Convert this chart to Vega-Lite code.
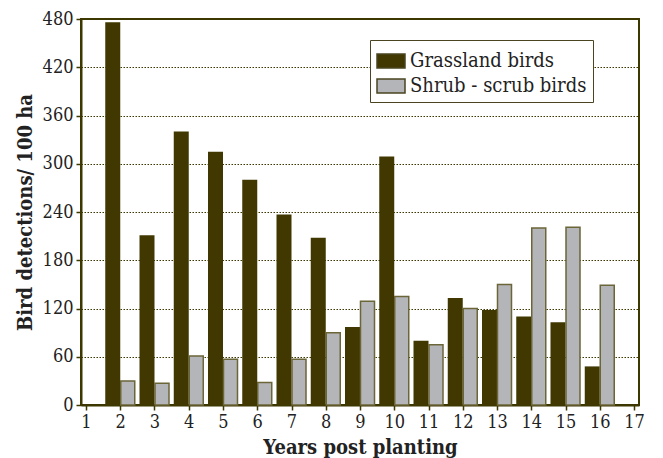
{
  "$schema": "https://vega.github.io/schema/vega-lite/v6.json",
  "width": 558,
  "height": 386,
  "autosize": {"type": "none"},
  "padding": {"left": 81, "top": 19, "right": 24, "bottom": 53},
  "background": "white",
  "config": {
    "view": {"stroke": "#3d3700", "strokeWidth": 2},
    "font": "DejaVu Serif Condensed",
    "axis": {
      "labelFont": "DejaVu Serif Condensed",
      "labelFontSize": 18,
      "labelColor": "#222222",
      "titleFont": "DejaVu Serif Condensed",
      "titleFontSize": 20,
      "titleFontWeight": "bold",
      "titleColor": "#222222",
      "domainColor": "#3d3700",
      "domainWidth": 2,
      "tickColor": "#3d3700",
      "tickSize": 5,
      "tickWidth": 1.5
    },
    "legend": {
      "labelFont": "DejaVu Serif Condensed"
    }
  },
  "data": {
    "values": [
      {"year": 2, "group": "Grassland birds", "value": 476},
      {"year": 3, "group": "Grassland birds", "value": 211},
      {"year": 4, "group": "Grassland birds", "value": 340},
      {"year": 5, "group": "Grassland birds", "value": 315},
      {"year": 6, "group": "Grassland birds", "value": 280},
      {"year": 7, "group": "Grassland birds", "value": 237},
      {"year": 8, "group": "Grassland birds", "value": 208},
      {"year": 9, "group": "Grassland birds", "value": 97},
      {"year": 10, "group": "Grassland birds", "value": 309},
      {"year": 11, "group": "Grassland birds", "value": 80},
      {"year": 12, "group": "Grassland birds", "value": 133},
      {"year": 13, "group": "Grassland birds", "value": 118},
      {"year": 14, "group": "Grassland birds", "value": 110},
      {"year": 15, "group": "Grassland birds", "value": 103},
      {"year": 16, "group": "Grassland birds", "value": 48},
      {"year": 2, "group": "Shrub - scrub birds", "value": 30},
      {"year": 3, "group": "Shrub - scrub birds", "value": 27},
      {"year": 4, "group": "Shrub - scrub birds", "value": 61},
      {"year": 5, "group": "Shrub - scrub birds", "value": 57},
      {"year": 6, "group": "Shrub - scrub birds", "value": 28},
      {"year": 7, "group": "Shrub - scrub birds", "value": 57},
      {"year": 8, "group": "Shrub - scrub birds", "value": 90},
      {"year": 9, "group": "Shrub - scrub birds", "value": 129},
      {"year": 10, "group": "Shrub - scrub birds", "value": 135},
      {"year": 11, "group": "Shrub - scrub birds", "value": 75},
      {"year": 12, "group": "Shrub - scrub birds", "value": 120},
      {"year": 13, "group": "Shrub - scrub birds", "value": 150},
      {"year": 14, "group": "Shrub - scrub birds", "value": 220},
      {"year": 15, "group": "Shrub - scrub birds", "value": 221},
      {"year": 16, "group": "Shrub - scrub birds", "value": 149}
    ]
  },
  "encoding": {
    "x": {
      "field": "year",
      "type": "quantitative",
      "scale": {"domain": [1, 17], "nice": false, "zero": false},
      "axis": {"values": [1,2,3,4,5,6,7,8,9,10,11,12,13,14,15,16,17], "title": "Years post planting", "grid": false, "labelPadding": 3, "titlePadding": 6, "labelFont": "DejaVu Serif Condensed"}
    },
    "y": {
      "field": "value",
      "type": "quantitative",
      "scale": {"domain": [0, 480], "nice": false},
      "axis": {
        "values": [0, 60, 120, 180, 240, 300, 360, 420, 480],
        "title": "Bird detections/ 100 ha",
        "grid": true,
        "gridColor": "#3d3700",
        "gridDash": [1.5, 1.5],
        "gridWidth": 1.2,
        "labelPadding": 3,
        "titlePadding": 7,
        "labelFont": "DejaVu Serif Condensed"
      }
    },
    "color": {
      "field": "group",
      "type": "nominal",
      "scale": {"domain": ["Grassland birds", "Shrub - scrub birds"], "range": ["#403800", "#b4b5b8"]},
      "legend": {
        "title": null,
        "orient": "none",
        "legendX": 289,
        "legendY": 21,
        "padding": 6,
        "fillColor": "white",
        "strokeColor": "#4a4420",
        "labelFont": "DejaVu Serif Condensed",
        "labelFontSize": 20,
        "labelLimit": 400,
        "labelColor": "#222222",
        "labelOffset": 4,
        "symbolType": "M-1,-0.5H1V0.5H-1Z",
        "symbolSize": 784,
        "symbolOpacity": 1,
        "symbolStrokeColor": "#4a4420",
        "symbolStrokeWidth": 1.5,
        "rowPadding": 0
      }
    }
  },
  "layer": [
    {
      "transform": [{"filter": "datum.group === 'Grassland birds'"}],
      "mark": {"type": "bar", "width": 15, "xOffset": -7.5, "opacity": 1}
    },
    {
      "transform": [{"filter": "datum.group === 'Shrub - scrub birds'"}],
      "mark": {"type": "bar", "width": 14, "xOffset": 7.5, "opacity": 1, "stroke": "#6b6638", "strokeWidth": 1.5}
    }
  ]
}
